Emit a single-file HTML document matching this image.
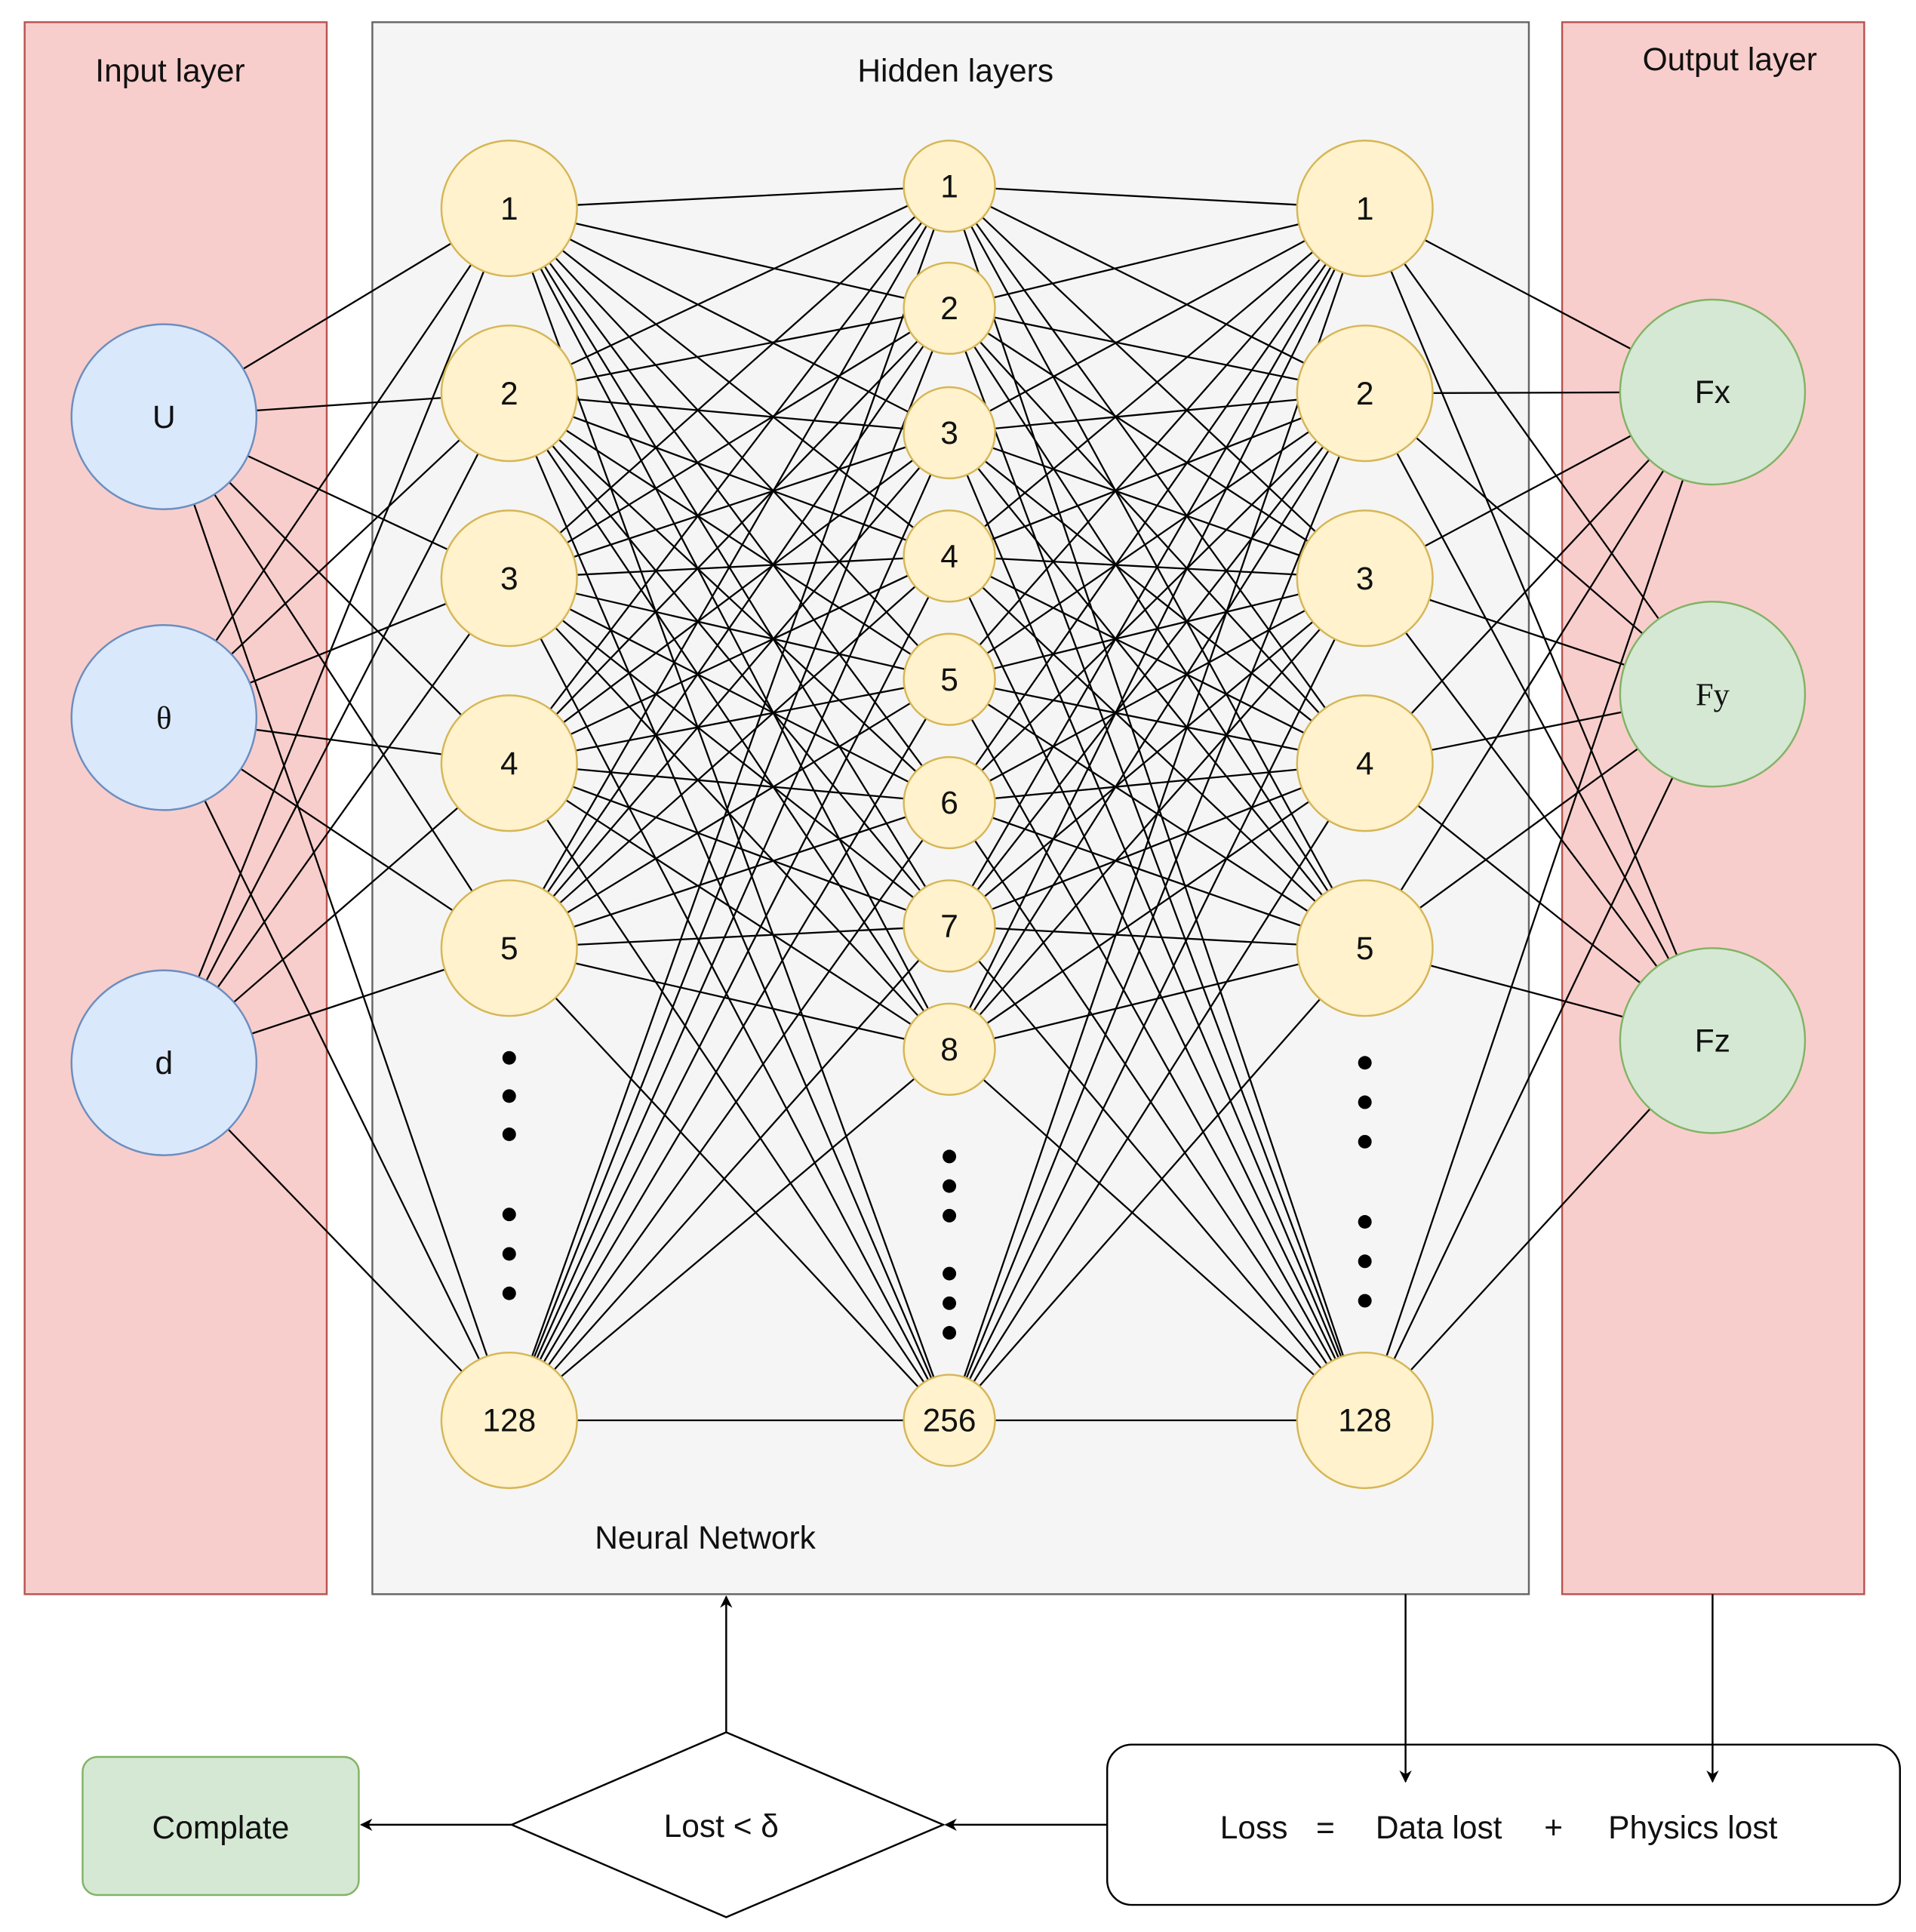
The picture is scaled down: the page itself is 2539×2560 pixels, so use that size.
<!DOCTYPE html>
<html><head><meta charset="utf-8"><style>
html,body{margin:0;padding:0;background:#fff;}
svg{display:block;}
text{font-family:"Liberation Sans",sans-serif;fill:#111;}
</style></head><body>
<svg id="s" width="2539" height="2560" viewBox="0 0 1554 1567" preserveAspectRatio="none" xmlns="http://www.w3.org/2000/svg">
<defs><marker id="ar" markerWidth="10" markerHeight="10" refX="9" refY="5" orient="auto" markerUnits="userSpaceOnUse"><path d="M0,0 L10,5 L0,10 L3,5 z" fill="#000"/></marker></defs>
<rect x="20" y="18" width="245" height="1275" fill="#f8cecc" stroke="#b85450" stroke-width="1.5"/>
<rect x="302" y="18" width="938" height="1275" fill="#f5f5f5" stroke="#666" stroke-width="1.5"/>
<rect x="1267" y="18" width="245" height="1275" fill="#f8cecc" stroke="#b85450" stroke-width="1.5"/>
<text x="138" y="66" font-size="26" text-anchor="middle">Input layer</text>
<text x="775" y="66" font-size="26" text-anchor="middle">Hidden layers</text>
<text x="1403" y="57" font-size="26" text-anchor="middle">Output layer</text>
<text x="572" y="1256" font-size="26" text-anchor="middle">Neural Network</text>
<g id="edges" stroke="#000" stroke-width="1.4"></g>
<g id="nodes"></g>
<line x1="589" y1="1405" x2="589" y2="1295" stroke="#000" stroke-width="1.5" marker-end="url(#ar)"/>
<polygon points="589,1405 765,1480 589,1555 415,1480" fill="#fff" stroke="#000" stroke-width="1.5"/>
<text x="585" y="1490" font-size="26" text-anchor="middle">Lost &lt; δ</text>
<rect x="67" y="1425" width="224" height="112" rx="12" fill="#d5e8d4" stroke="#82b366" stroke-width="1.5"/>
<text x="179" y="1491" font-size="26" text-anchor="middle">Complate</text>
<line x1="415" y1="1480" x2="293" y2="1480" stroke="#000" stroke-width="1.5" marker-end="url(#ar)"/>
<rect x="898" y="1415" width="643" height="130" rx="20" fill="#fff" stroke="#000" stroke-width="1.5"/>
<line x1="898" y1="1480" x2="767" y2="1480" stroke="#000" stroke-width="1.5" marker-end="url(#ar)"/>
<line x1="1140" y1="1293" x2="1140" y2="1445" stroke="#000" stroke-width="1.5" marker-end="url(#ar)"/>
<line x1="1389" y1="1293" x2="1389" y2="1445" stroke="#000" stroke-width="1.5" marker-end="url(#ar)"/>
<text x="1017" y="1491" font-size="26" text-anchor="middle">Loss</text>
<text x="1075" y="1491" font-size="26" text-anchor="middle">=</text>
<text x="1167" y="1491" font-size="26" text-anchor="middle">Data lost</text>
<text x="1260" y="1491" font-size="26" text-anchor="middle">+</text>
<text x="1373" y="1491" font-size="26" text-anchor="middle">Physics lost</text>
</svg>
<script>
var NS="http://www.w3.org/2000/svg";
var L0=[[133,338,75,"U"],[133,582,75,"θ"],[133,862,75,"d"]];
var L1=[],L3=[];
[169,319,469,619,769].forEach(function(y,i){L1.push([413,y,55,""+(i+1)]);L3.push([1107,y,55,""+(i+1)]);});
L1.push([413,1152,55,"128"]);L3.push([1107,1152,55,"128"]);
var L2=[];[151,250,351,451,551,651,751,851].forEach(function(y,i){L2.push([770,y,37,""+(i+1)]);});
L2.push([770,1152,37,"256"]);
var L4=[[1389,318,75,"Fx"],[1389,563,75,"Fy"],[1389,844,75,"Fz"]];
var E=document.getElementById("edges"),N=document.getElementById("nodes");
function conn(A,B){A.forEach(function(a){B.forEach(function(b){
var dx=b[0]-a[0],dy=b[1]-a[1],d=Math.sqrt(dx*dx+dy*dy);
var l=document.createElementNS(NS,"line");
l.setAttribute("x1",a[0]+dx/d*a[2]);l.setAttribute("y1",a[1]+dy/d*a[2]);
l.setAttribute("x2",b[0]-dx/d*b[2]);l.setAttribute("y2",b[1]-dy/d*b[2]);E.appendChild(l);});});}
conn(L0,L1);conn(L1,L2);conn(L2,L3);conn(L3,L4);
function draw(L,fill,stroke){L.forEach(function(n){
var c=document.createElementNS(NS,"circle");c.setAttribute("cx",n[0]);c.setAttribute("cy",n[1]);c.setAttribute("r",n[2]);
c.setAttribute("fill",fill);c.setAttribute("stroke",stroke);c.setAttribute("stroke-width","1.5");N.appendChild(c);
var t=document.createElementNS(NS,"text");t.setAttribute("x",n[0]);t.setAttribute("y",n[1]+9);t.setAttribute("font-size","26");
t.setAttribute("text-anchor","middle");if(n[3]=="θ"||n[3]=="Fy"){t.setAttribute("style","font-family:'Liberation Serif',serif");}
t.textContent=n[3];N.appendChild(t);});}
draw(L0,"#dae8fc","#6c8ebf");draw(L1,"#fff2cc","#d6b656");draw(L2,"#fff2cc","#d6b656");draw(L3,"#fff2cc","#d6b656");draw(L4,"#d5e8d4","#82b366");
function dots(x,ys){ys.forEach(function(y){var c=document.createElementNS(NS,"circle");c.setAttribute("cx",x);c.setAttribute("cy",y);c.setAttribute("r","5.5");c.setAttribute("fill","#000");N.appendChild(c);});}
dots(413,[858,889,920,985,1017,1049]);dots(770,[938,962,986,1033,1057,1081]);dots(1107,[862,894,926,991,1023,1055]);
</script>
</body></html>
